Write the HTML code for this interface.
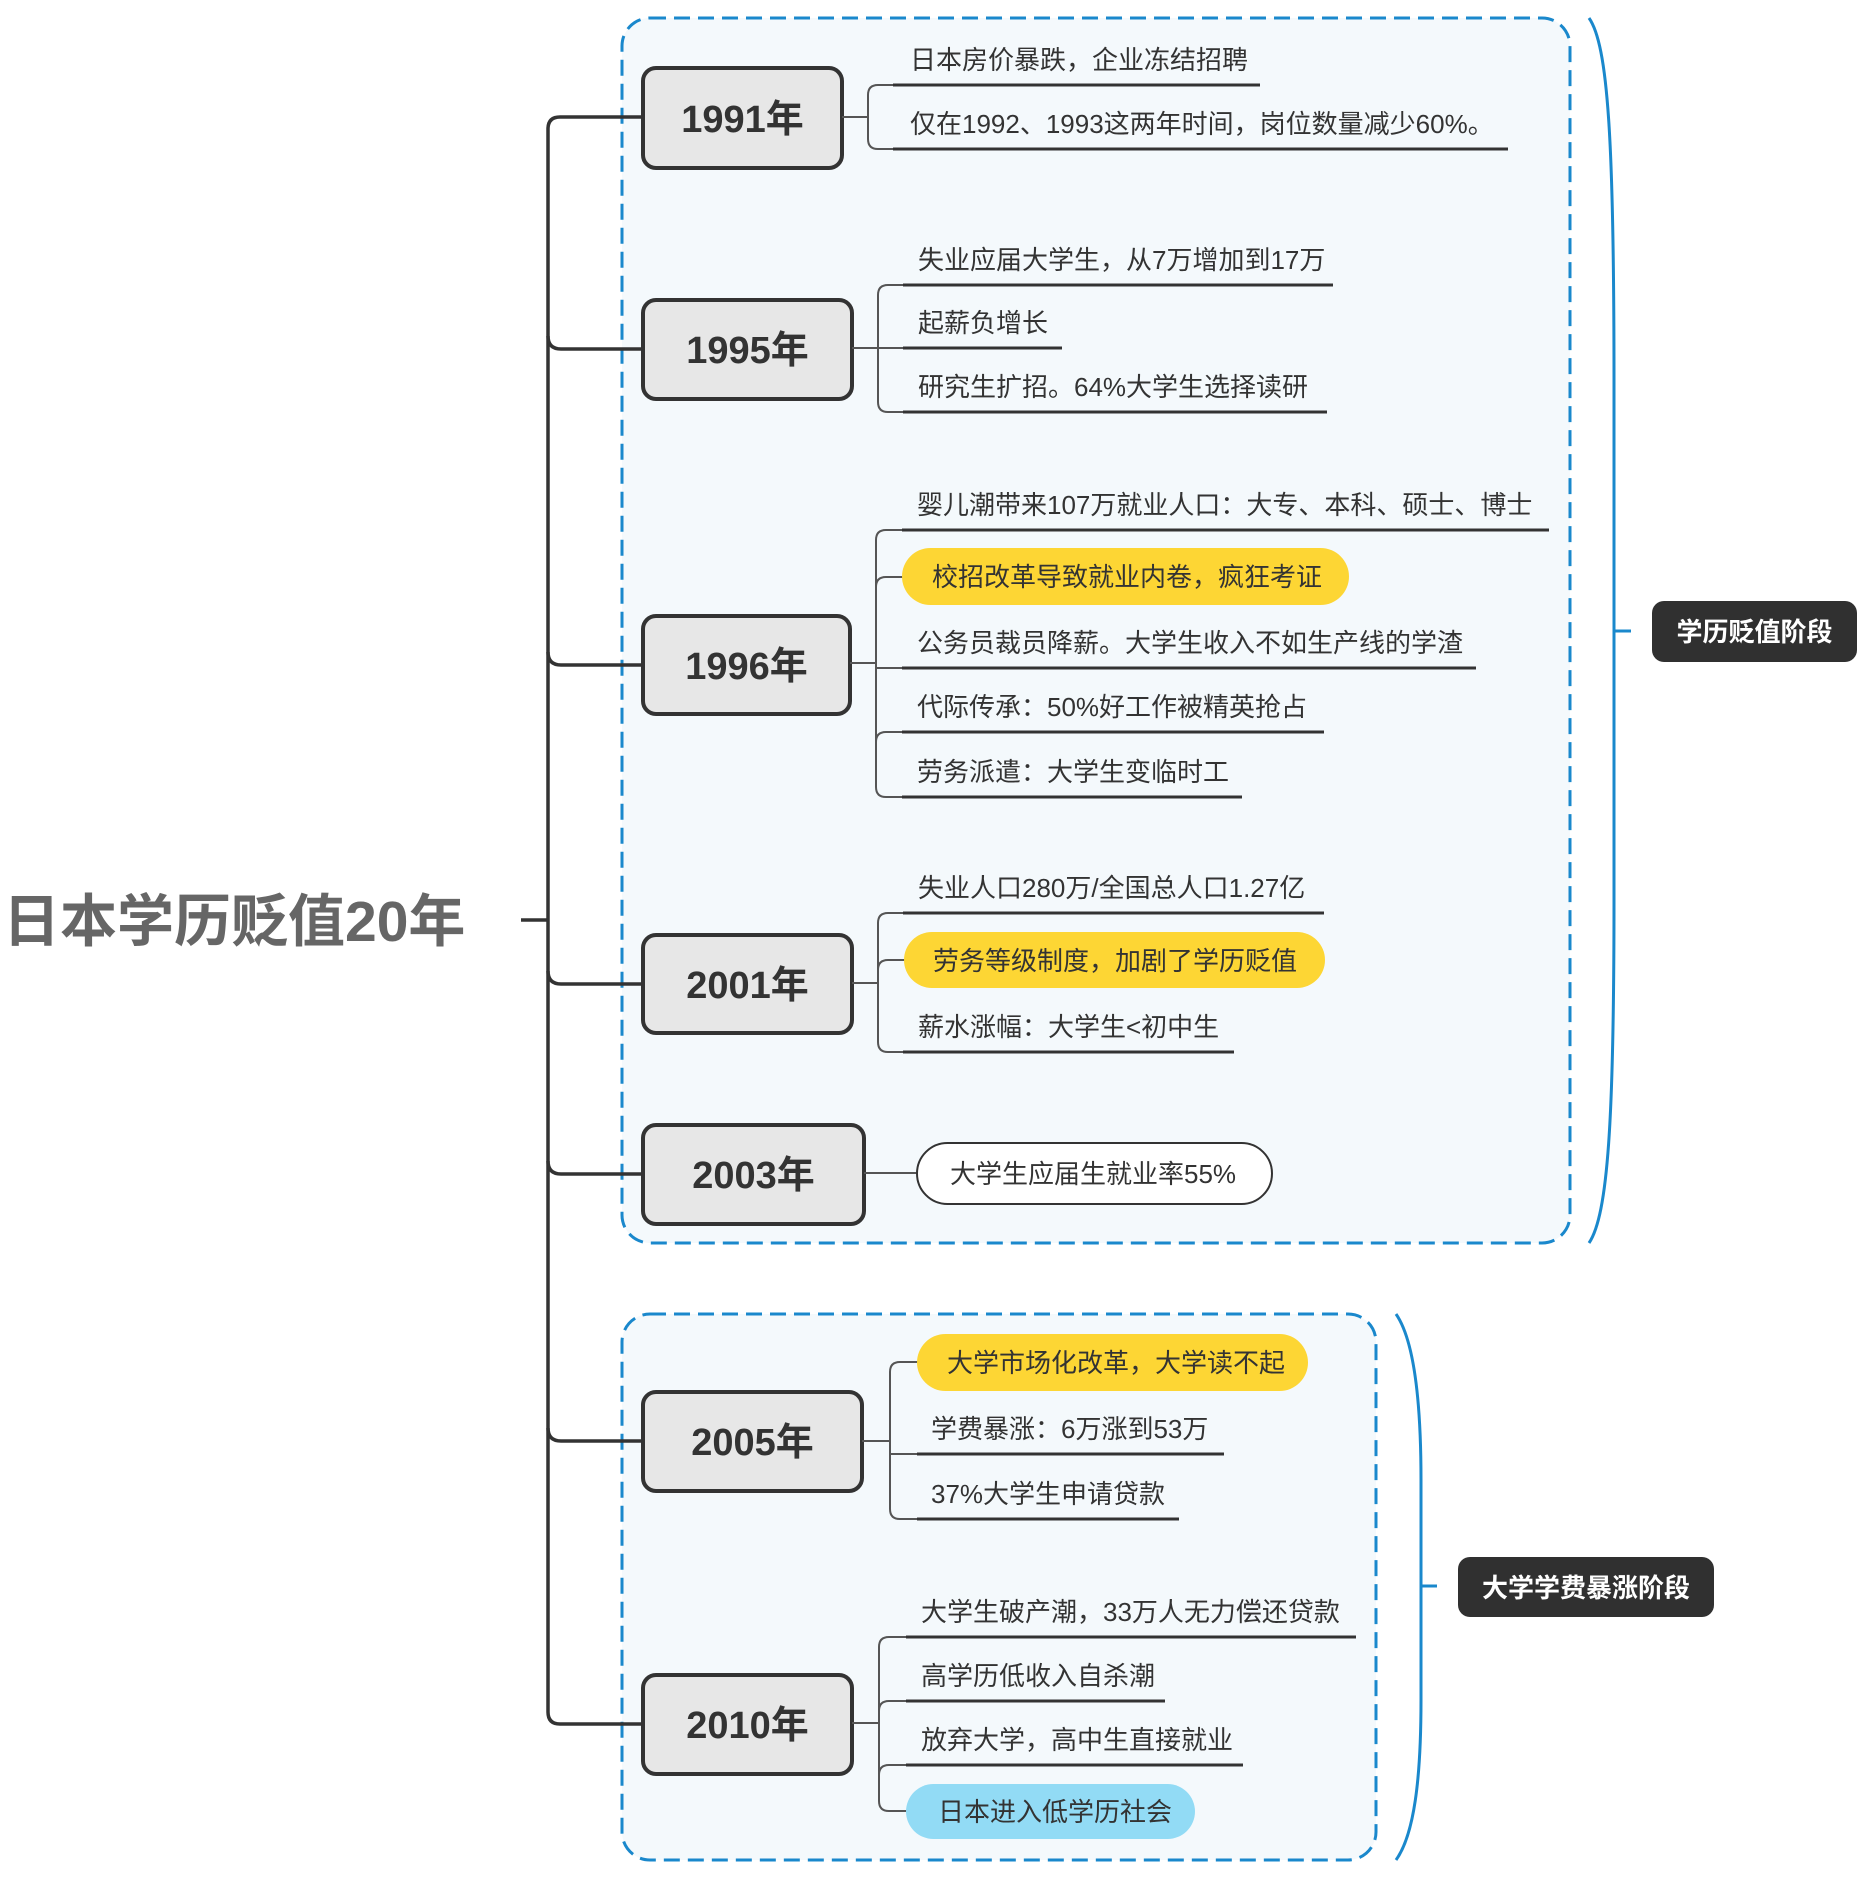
<!DOCTYPE html>
<html lang="zh">
<head>
<meta charset="utf-8">
<style>
  html, body { margin: 0; padding: 0; background: #ffffff; }
  svg { display: block; }
  text { font-family: "Liberation Sans", "Noto Sans CJK SC", sans-serif; }
  .item { font-size: 26px; fill: #333333; }
  .year { font-size: 38px; font-weight: bold; fill: #333333; }
  .lab { font-size: 26px; font-weight: bold; fill: #ffffff; }
  .ul { stroke: #333333; stroke-width: 3; fill: none; }
  .br { stroke: #555555; stroke-width: 2; fill: none; }
  .trunk { stroke: #333333; stroke-width: 3.5; fill: none; }
  .ybox { fill: #e7e7e7; stroke: #333333; stroke-width: 4; }
  .dash { fill: #f4f9fc; stroke: #1a88cc; stroke-width: 3; stroke-dasharray: 16 8; }
  .brace { stroke: #1a88cc; stroke-width: 3; fill: none; }
</style>
</head>
<body>
<svg width="1868" height="1894" viewBox="0 0 1868 1894" xmlns="http://www.w3.org/2000/svg">
  <!-- dashed group boxes -->
  <rect class="dash" x="622" y="18" width="948" height="1225" rx="28"/>
  <rect class="dash" x="622" y="1314" width="754" height="546" rx="28"/>

  <!-- blue braces -->
  <path class="brace" d="M1589,18 C1608,45 1614,140 1614,380 L1614,900 C1614,1120 1608,1215 1589,1243"/>
  <path class="brace" d="M1614,631 H1631"/>
  <path class="brace" d="M1396,1314 C1414,1340 1421,1400 1421,1480 L1421,1700 C1421,1780 1414,1835 1396,1860"/>
  <path class="brace" d="M1421,1586 H1437"/>

  <!-- phase labels -->
  <rect x="1652" y="601" width="205" height="61" rx="12" fill="#303030"/>
  <text class="lab" x="1754.5" y="641" text-anchor="middle">学历贬值阶段</text>
  <rect x="1458" y="1557" width="256" height="60" rx="12" fill="#303030"/>
  <text class="lab" x="1586" y="1597" text-anchor="middle">大学学费暴涨阶段</text>

  <!-- title -->
  <text x="3" y="941" style="font-size:57px;font-weight:bold;fill:#666666;">日本学历贬值20年</text>
  <path class="trunk" d="M521,920 H548"/>

  <!-- main trunk -->
  <path class="trunk" d="M643,117 H560 Q548,117 548,129 V1712 Q548,1724 560,1724 H643"/>
  <path class="trunk" d="M548,336 Q548,349 561,349 H643"/>
  <path class="trunk" d="M548,652 Q548,665 561,665 H643"/>
  <path class="trunk" d="M548,971 Q548,984 561,984 H643"/>
  <path class="trunk" d="M548,1161 Q548,1174 561,1174 H643"/>
  <path class="trunk" d="M548,1428 Q548,1441 561,1441 H643"/>

  <!-- year boxes -->
  <rect class="ybox" x="643" y="68" width="199" height="100" rx="13"/>
  <text class="year" x="742.5" y="132" text-anchor="middle">1991年</text>
  <rect class="ybox" x="643" y="300" width="209" height="99" rx="13"/>
  <text class="year" x="747.5" y="363" text-anchor="middle">1995年</text>
  <rect class="ybox" x="643" y="616" width="207" height="98" rx="13"/>
  <text class="year" x="746.5" y="679" text-anchor="middle">1996年</text>
  <rect class="ybox" x="643" y="935" width="209" height="98" rx="13"/>
  <text class="year" x="747.5" y="998" text-anchor="middle">2001年</text>
  <rect class="ybox" x="643" y="1125" width="221" height="99" rx="13"/>
  <text class="year" x="753.5" y="1188" text-anchor="middle">2003年</text>
  <rect class="ybox" x="643" y="1392" width="219" height="99" rx="13"/>
  <text class="year" x="752.5" y="1455" text-anchor="middle">2005年</text>
  <rect class="ybox" x="643" y="1675" width="209" height="99" rx="13"/>
  <text class="year" x="747.5" y="1738" text-anchor="middle">2010年</text>

  <!-- ===== 1991 ===== -->
  <path class="br" d="M842,117 H868"/>
  <path class="br" d="M893,85 H878 Q868,85 868,95 V139 Q868,149 878,149 H893"/>
  <path class="ul" d="M893,85 H1260"/>
  <path class="ul" d="M893,149 H1508"/>
  <text class="item" x="910" y="69">日本房价暴跌，企业冻结招聘</text>
  <text class="item" x="910" y="133">仅在1992、1993这两年时间，岗位数量减少60%。</text>

  <!-- ===== 1995 ===== -->
  <path class="br" d="M852,348 H903"/>
  <path class="br" d="M903,285 H888 Q878,285 878,295 V402 Q878,412 888,412 H903"/>
  <path class="ul" d="M903,285 H1333"/>
  <path class="ul" d="M903,348 H1062"/>
  <path class="ul" d="M903,412 H1327"/>
  <text class="item" x="918" y="269">失业应届大学生，从7万增加到17万</text>
  <text class="item" x="918" y="332">起薪负增长</text>
  <text class="item" x="918" y="396">研究生扩招。64%大学生选择读研</text>

  <!-- ===== 1996 ===== -->
  <path class="br" d="M850,663 H876"/>
  <path class="br" d="M902,530 H886 Q876,530 876,540 V787 Q876,797 886,797 H902"/>
  <path class="br" d="M876,587 Q876,577 886,577 H904"/>
  <path class="br" d="M876,668 H902"/>
  <path class="br" d="M876,742 Q876,732 886,732 H902"/>
  <path class="ul" d="M902,530 H1549"/>
  <rect x="902" y="548" width="447" height="57" rx="28.5" fill="#fdd634"/>
  <path class="ul" d="M902,668 H1476"/>
  <path class="ul" d="M902,732 H1324"/>
  <path class="ul" d="M902,797 H1242"/>
  <text class="item" x="917" y="514">婴儿潮带来107万就业人口：大专、本科、硕士、博士</text>
  <text class="item" x="932" y="586">校招改革导致就业内卷，疯狂考证</text>
  <text class="item" x="917" y="652">公务员裁员降薪。大学生收入不如生产线的学渣</text>
  <text class="item" x="917" y="716">代际传承：50%好工作被精英抢占</text>
  <text class="item" x="917" y="781">劳务派遣：大学生变临时工</text>

  <!-- ===== 2001 ===== -->
  <path class="br" d="M852,983 H878"/>
  <path class="br" d="M903,913 H888 Q878,913 878,923 V1042 Q878,1052 888,1052 H903"/>
  <path class="br" d="M878,970 Q878,960 888,960 H906"/>
  <path class="ul" d="M903,913 H1324"/>
  <rect x="904" y="932" width="421" height="56" rx="28" fill="#fdd634"/>
  <path class="ul" d="M903,1052 H1234"/>
  <text class="item" x="918" y="897">失业人口280万/全国总人口1.27亿</text>
  <text class="item" x="933" y="970">劳务等级制度，加剧了学历贬值</text>
  <text class="item" x="918" y="1036">薪水涨幅：大学生&lt;初中生</text>

  <!-- ===== 2003 ===== -->
  <path class="br" d="M864,1173 H917"/>
  <rect x="917" y="1143" width="355" height="61" rx="30.5" fill="#ffffff" stroke="#333333" stroke-width="2"/>
  <text class="item" x="950" y="1183">大学生应届生就业率55%</text>

  <!-- ===== 2005 ===== -->
  <path class="br" d="M862,1441 H890"/>
  <path class="br" d="M919,1362 H900 Q890,1362 890,1372 V1509 Q890,1519 900,1519 H917"/>
  <path class="br" d="M890,1454 H917"/>
  <rect x="917" y="1334" width="391" height="57" rx="28.5" fill="#fdd634"/>
  <path class="ul" d="M917,1454 H1224"/>
  <path class="ul" d="M917,1519 H1179"/>
  <text class="item" x="947" y="1372">大学市场化改革，大学读不起</text>
  <text class="item" x="931" y="1438">学费暴涨：6万涨到53万</text>
  <text class="item" x="931" y="1503">37%大学生申请贷款</text>

  <!-- ===== 2010 ===== -->
  <path class="br" d="M852,1723 H879"/>
  <path class="br" d="M906,1637 H889 Q879,1637 879,1647 V1801 Q879,1811 889,1811 H908"/>
  <path class="br" d="M879,1711 Q879,1701 889,1701 H906"/>
  <path class="br" d="M879,1775 Q879,1765 889,1765 H906"/>
  <path class="ul" d="M906,1637 H1356"/>
  <path class="ul" d="M906,1701 H1165"/>
  <path class="ul" d="M906,1765 H1243"/>
  <rect x="906" y="1784" width="289" height="55" rx="27.5" fill="#92dbf5"/>
  <text class="item" x="921" y="1621">大学生破产潮，33万人无力偿还贷款</text>
  <text class="item" x="921" y="1685">高学历低收入自杀潮</text>
  <text class="item" x="921" y="1749">放弃大学，高中生直接就业</text>
  <text class="item" x="938" y="1821">日本进入低学历社会</text>
</svg>
</body>
</html>
